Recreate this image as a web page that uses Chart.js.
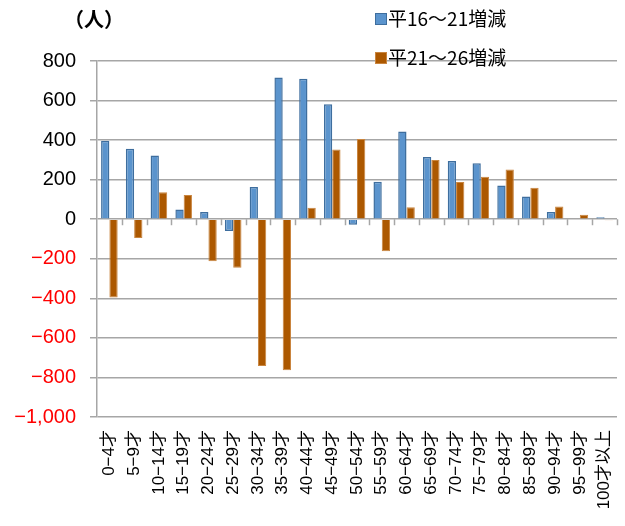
<!DOCTYPE html>
<html lang="ja">
<head>
  <meta charset="UTF-8">
  <title>年齢別人口増減</title>
  <script src="https://cdn.jsdelivr.net/npm/chart.js@4.4.0/dist/chart.umd.min.js"></script>
  <style>
    html, body { margin: 0; padding: 0; background: #fff; }
    #wrap { position: relative; width: 625px; height: 526px; }
    #unit { position: absolute; left: 64px; top: 4px; font: bold 20px "Noto Sans CJK JP", sans-serif; color: #000; }
    #legend { position: absolute; left: 375px; top: 1px; font: 19px "Noto Sans CJK JP", sans-serif; color: #000; }
    #legend div { height: 39px; line-height: 34px; white-space: nowrap; }
    #legend span.box { display: inline-block; width: 10px; height: 10px; margin-right: 1px; vertical-align: 1px; border: 1px solid; }
  </style>
</head>
<body>
<div id="wrap">
  <canvas id="chart" width="625" height="526"></canvas>
  <div id="unit">（人）</div>
  <div id="legend"></div>
</div>
<script>
  // 年齢区分
  const ageLabels = ['0−4才','5−9才','10−14才','15−19才','20−24才','25−29才','30−34才',
    '35−39才','40−44才','45−49才','50−54才','55−59才','60−64才','65−69才','70−74才',
    '75−79才','80−84才','85−89才','90−94才','95−99才','100才以上'];
  // 平16～21増減
  const diff16to21 = [397, 356, 322, 49, 36, -60, 163, 717, 710, 581, -28, 190, 444,
    315, 295, 283, 170, 115, 36, 0, 10];
  // 平21～26増減
  const diff21to26 = [-396, -95, 136, 122, -213, -245, -742, -764, 58, 353, 405, -162,
    61, 300, 188, 215, 251, 159, 64, 22, -5];

  const FONT = '"Liberation Sans", "Noto Sans CJK JP", sans-serif';
  const GRID = '#a6a6a6';

  // 0の線に目盛り（区分の境目）
  const zeroTicks = {
    id: 'zeroTicks',
    beforeDatasetsDraw(chart) {
      const x = chart.scales.x, y = chart.scales.y, ctx = chart.ctx;
      const y0 = y.getPixelForValue(0);
      const n = ageLabels.length, step = (x.right - x.left) / n;
      ctx.save();
      ctx.strokeStyle = GRID;
      ctx.lineWidth = 1.5;
      for (let i = 1; i <= n; i++) {
        const px = Math.round(x.left + i * step) + 0.5;
        ctx.beginPath(); ctx.moveTo(px, y0); ctx.lineTo(px, y0 + 6); ctx.stroke();
      }
      ctx.restore();
    }
  };

  const chart = new Chart(document.getElementById('chart'), {
    type: 'bar',
    data: {
      labels: ageLabels,
      datasets: [
        { label: '平16～21増減', data: diff16to21, backgroundColor: '#5b94cd', borderColor: '#3e6e9e', borderWidth: 1.5 },
        { label: '平21～26増減', data: diff21to26, backgroundColor: '#ac5800', borderColor: '#c9853f', borderWidth: 1 }
      ]
    },
    options: {
      responsive: false,
      animation: false,
      layout: { padding: { top: 61, right: 8, left: 0, bottom: 0 } },
      plugins: { legend: { display: false }, tooltip: { enabled: false } },
      datasets: { bar: { categoryPercentage: 0.67, barPercentage: 1.0 } },
      scales: {
        x: {
          grid: { display: false, drawTicks: false },
          border: { display: false },
          ticks: { minRotation: 90, maxRotation: 90, autoSkip: false, padding: 13, color: '#000', font: { family: FONT, size: 17 } },
          afterFit(s) { s.height = 109; s.paddingLeft = 0; s.paddingRight = 0; }
        },
        y: {
          min: -1000, max: 800,
          grid: { color: GRID, lineWidth: 1.5, tickLength: 7 },
          border: { color: GRID, width: 1.5 },
          ticks: {
            stepSize: 200, padding: 14,
            font: { family: FONT, size: 20 },
            color: c => c.tick.value < 0 ? '#ff0000' : '#000',
            callback: v => v.toLocaleString('en-US').replace('-', '−')
          },
          afterFit(s) { s.width = 97; s.paddingTop = 0; s.paddingBottom = 0; }
        }
      }
    },
    plugins: [zeroTicks]
  });

  // 凡例
  const legend = document.getElementById('legend');
  chart.data.datasets.forEach(ds => {
    const row = document.createElement('div');
    const box = document.createElement('span');
    box.className = 'box';
    box.style.background = ds.backgroundColor;
    box.style.borderColor = ds.borderColor;
    row.appendChild(box);
    row.appendChild(document.createTextNode(ds.label));
    legend.appendChild(row);
  });
</script>
</body>
</html>
